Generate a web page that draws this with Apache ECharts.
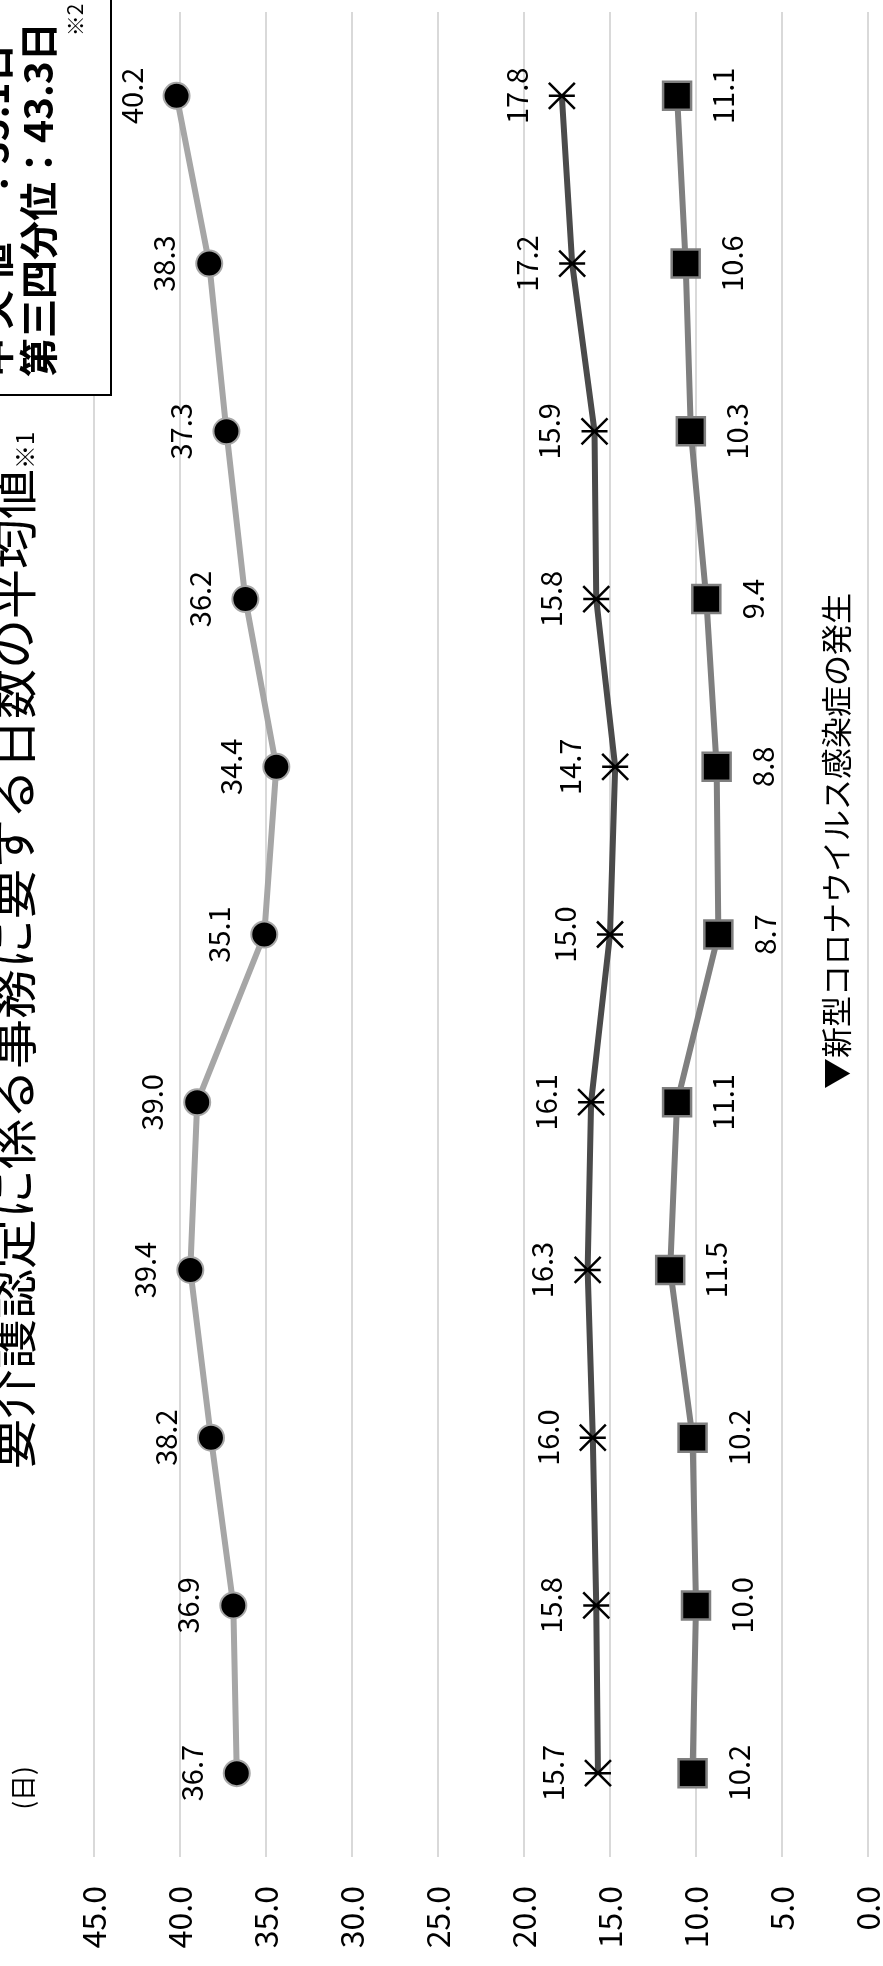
<!DOCTYPE html>
<html><head><meta charset="utf-8">
<script src="https://cdn.jsdelivr.net/npm/echarts@6/dist/echarts.min.js"></script>
<style>html,body{margin:0;padding:0;background:#fff}#c{width:883px;height:1966px}</style>
</head><body><div id="c"></div>
<script>
// ---- data ----
const categories = ['第1期','第2期','第3期','第4期','第5期','第6期','第7期','第8期','第9期','第10期','第11期'];
const seriesNames = ['平均日数','系列2','系列3'];
const seriesCircle = [36.7, 36.9, 38.2, 39.4, 39.0, 35.1, 34.4, 36.2, 37.3, 38.3, 40.2];
const seriesStar   = [15.7, 15.8, 16.0, 16.3, 16.1, 15.0, 14.7, 15.8, 15.9, 17.2, 17.8];
const seriesSquare = [10.2, 10.0, 10.2, 11.5, 11.1, 8.7, 8.8, 9.4, 10.3, 10.6, 11.1];
const valueMin = 0, valueMax = 45, valueStep = 5;
const titleText = '要介護認定に係る事務に要する日数の平均値';
const unitText = '(日)';
const boxLine1 = '中 央 値　：35.1日';
const boxLine2 = '第三四分位：43.3日';
const covidText = '▼新型コロナウイルス感染症の発生';

const FONT = "'Noto Sans CJK JP', 'Noto Sans', sans-serif";
const R = Math.PI / 2;

function lbl(pos, dist) {
  return {
    show: true, position: pos, distance: dist, rotate: 90,
    align: 'center', verticalAlign: 'middle',
    fontSize: 29, color: '#000', fontFamily: FONT,
    formatter: p => Number(p.value).toFixed(1)
  };
}

const chart = echarts.init(document.getElementById('c'), null, {renderer: 'canvas'});
chart.setOption({
  animation: false,
  backgroundColor: '#fff',
  grid: {left: 94, right: 15, top: 12, bottom: 109, containLabel: false, outerBoundsMode: 'none'},
  xAxis: {
    type: 'value', min: valueMin, max: valueMax, interval: valueStep, inverse: true,
    axisLine: {show: false}, axisTick: {show: false},
    splitLine: {show: true, lineStyle: {color: '#d9d9d9', width: 2}},
    axisLabel: {rotate: 90, margin: 29, fontSize: 32, color: '#000', fontFamily: FONT,
      formatter: v => v.toFixed(1)}
  },
  yAxis: {
    type: 'category', data: categories,
    axisLine: {show: false}, axisTick: {show: false}, axisLabel: {show: false}, splitLine: {show: false}
  },
  series: [
    {
      name: seriesNames[0], type: 'line', data: seriesCircle, symbol: 'circle', symbolSize: 26,
      lineStyle: {color: '#a6a6a6', width: 6},
      itemStyle: {color: '#000', borderColor: '#a6a6a6', borderWidth: 2},
      label: lbl('left', 31), emphasis: {disabled: true}
    },
    {
      name: seriesNames[1], type: 'line', data: seriesStar,
      symbol: 'path://M0,0L10,10M10,0L0,10M0,5L10,5', symbolSize: 26,
      lineStyle: {color: '#4a4a4a', width: 6},
      itemStyle: {color: '#000', borderColor: '#000', borderWidth: 2.5},
      label: lbl('left', 31), emphasis: {disabled: true}
    },
    {
      name: seriesNames[2], type: 'line', data: seriesSquare, symbol: 'rect', symbolSize: 28,
      lineStyle: {color: '#7f7f7f', width: 6},
      itemStyle: {color: '#000', borderColor: '#7f7f7f', borderWidth: 2.5},
      label: lbl('right', 31), emphasis: {disabled: true}
    }
  ],
  graphic: [
    {type: 'text', x: 12, y: 1469, rotation: R, z: 20, style: {
      text: '{a|' + titleText + '}{b|※1}', align: 'left', verticalAlign: 'middle', fill: '#000',
      rich: {a: {fontSize: 50, fontFamily: FONT, fill: '#000'}, b: {fontSize: 24, fontFamily: FONT, fill: '#000', verticalAlign: 'bottom'}}
    }},
    {type: 'text', x: 23, y: 1788, rotation: R, z: 20, style: {
      text: unitText, fontSize: 26, fontFamily: FONT, align: 'center', verticalAlign: 'middle', fill: '#000'}},
    {type: 'rect', z: 15, shape: {x: -10, y: -10, width: 121, height: 405},
      style: {fill: '#fff', stroke: '#000', lineWidth: 2}},
    {type: 'text', x: -6, y: 377, rotation: R, z: 20, style: {
      text: boxLine1, fontSize: 39, fontWeight: 'bold', fontFamily: FONT, align: 'left', verticalAlign: 'middle', fill: '#000'}},
    {type: 'text', x: 38, y: 377, rotation: R, z: 20, style: {
      text: boxLine2, fontSize: 39, fontWeight: 'bold', fontFamily: FONT, align: 'left', verticalAlign: 'middle', fill: '#000'}},
    {type: 'text', x: 75, y: 20, rotation: R, z: 20, style: {
      text: '※2', fontSize: 21, fontFamily: FONT, align: 'center', verticalAlign: 'middle', fill: '#000'}},
    {type: 'text', x: 836, y: 841, rotation: R, z: 20, style: {
      text: covidText, fontSize: 31, fontFamily: FONT, align: 'center', verticalAlign: 'middle', fill: '#000'}}
  ]
});
</script>
</body></html>
